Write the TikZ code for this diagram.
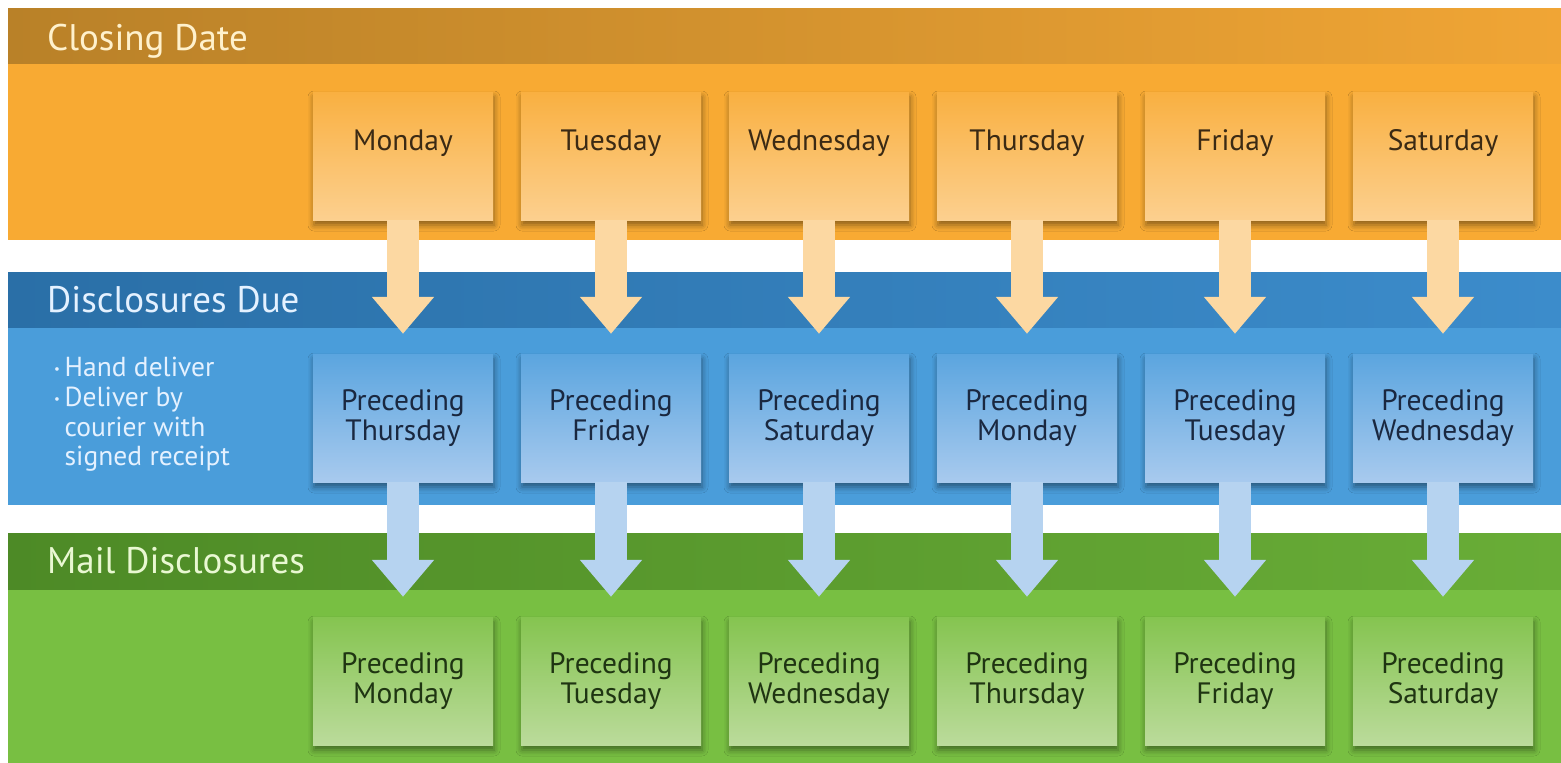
\documentclass[tikz,border=0pt]{standalone}
\usepackage{fontspec}
\setmainfont{PT Sans}
\usetikzlibrary{arrows.meta,shadows.blur}
% band colours
\definecolor{orband}{HTML}{F8AA33}
\definecolor{orheadL}{HTML}{B98128}
\definecolor{orheadR}{HTML}{F0A535}
\definecolor{orboxtop}{HTML}{F9B041}
\definecolor{orboxbot}{HTML}{FCD08F}
\definecolor{orarrow}{HTML}{FCD8A2}
\definecolor{ortext}{HTML}{3B2A14}
\definecolor{orhtext}{HTML}{FFF1CC}
\definecolor{blband}{HTML}{4A9DDA}
\definecolor{blheadL}{HTML}{2A6FA7}
\definecolor{blheadR}{HTML}{3C8CCB}
\definecolor{blboxtop}{HTML}{5BA5DF}
\definecolor{blboxbot}{HTML}{A8CAEE}
\definecolor{blarrow}{HTML}{B6D3F0}
\definecolor{bltext}{HTML}{1A2840}
\definecolor{blhtext}{HTML}{E4F1FF}
\definecolor{grband}{HTML}{78BF42}
\definecolor{grheadL}{HTML}{4D8A26}
\definecolor{grheadR}{HTML}{69AD37}
\definecolor{grboxtop}{HTML}{85C450}
\definecolor{grboxbot}{HTML}{BBDB9B}
\definecolor{grtext}{HTML}{1F3512}
\definecolor{grhtext}{HTML}{E9F8D2}
\newcommand{\bul}{\raisebox{3pt}{\fontsize{13}{13}\selectfont\textbullet}\,}
\begin{document}
\begin{tikzpicture}[x=1pt,y=-1pt,
    dbox/.style={minimum width=180pt,minimum height=128pt,inner sep=0pt,align=center,
      font=\fontsize{29.5}{30}\selectfont,
      blur shadow={shadow xshift=1pt,shadow yshift=-5pt,shadow blur radius=6pt,shadow opacity=45}},
    obox/.style={dbox,top color=orboxtop,bottom color=orboxbot,text=ortext,text depth=32pt},
    bbox/.style={dbox,top color=blboxtop,bottom color=blboxbot,text=bltext},
    gbox/.style={dbox,top color=grboxtop,bottom color=grboxbot,text=grtext},
    head/.style={anchor=base west,inner sep=0pt,font=\fontsize{37}{40}\selectfont},
    darr/.style={line width=32pt,-{Triangle[width=60pt,length=37pt]},shorten >=20pt}]
  \fill[white] (0,0) rectangle (1561,763);
  \useasboundingbox (0,0) rectangle (1561,763);
  % closing date band
  \fill[orband] (8,8) rectangle (1561,240);
  \shade[left color=orheadL,right color=orheadR] (8,8) rectangle (1561,63);
  \node[head,text=orhtext] (closing) at (47,50) {Closing Date};
  % disclosures due band
  \fill[blband] (8,272) rectangle (1561,505);
  \shade[left color=blheadL,right color=blheadR] (8,272) rectangle (1561,327);
  \node[head,text=blhtext] (due) at (47,312) {Disclosures Due};
  \node[anchor=north west,inner sep=0pt,align=left,text=blhtext,
    font=\fontsize{27.5}{29.7}\selectfont] (ways) at (54,357)
    {\bul Hand deliver\\
     \bul Deliver by\\
     \phantom{\bul}courier with\\
     \phantom{\bul}signed receipt};
  % mail disclosures band
  \fill[grband] (8,533) rectangle (1561,763);
  \shade[left color=grheadL,right color=grheadR] (8,533) rectangle (1561,589);
  \node[head,text=grhtext] (mail) at (47,573) {Mail Disclosures};
  % day boxes
  \foreach \i/\a/\b/\c in {1/Monday/Thursday/Monday, 2/Tuesday/Friday/Tuesday,
      3/Wednesday/Saturday/Wednesday, 4/Thursday/Monday/Thursday,
      5/Friday/Tuesday/Friday, 6/Saturday/Wednesday/Saturday}{
    \node[obox] (c\i) at (195+208*\i,156) {\a};
    \node[bbox] (d\i) at (195+208*\i,418) {Preceding\\\b};
    \node[gbox] (m\i) at (195+208*\i,681) {Preceding\\\c};
  }
  \foreach \i in {1,...,6}{
    \draw[darr,orarrow] (c\i) -- (d\i);
    \draw[darr,blarrow] (d\i) -- (m\i);
  }
\end{tikzpicture}
\end{document}
